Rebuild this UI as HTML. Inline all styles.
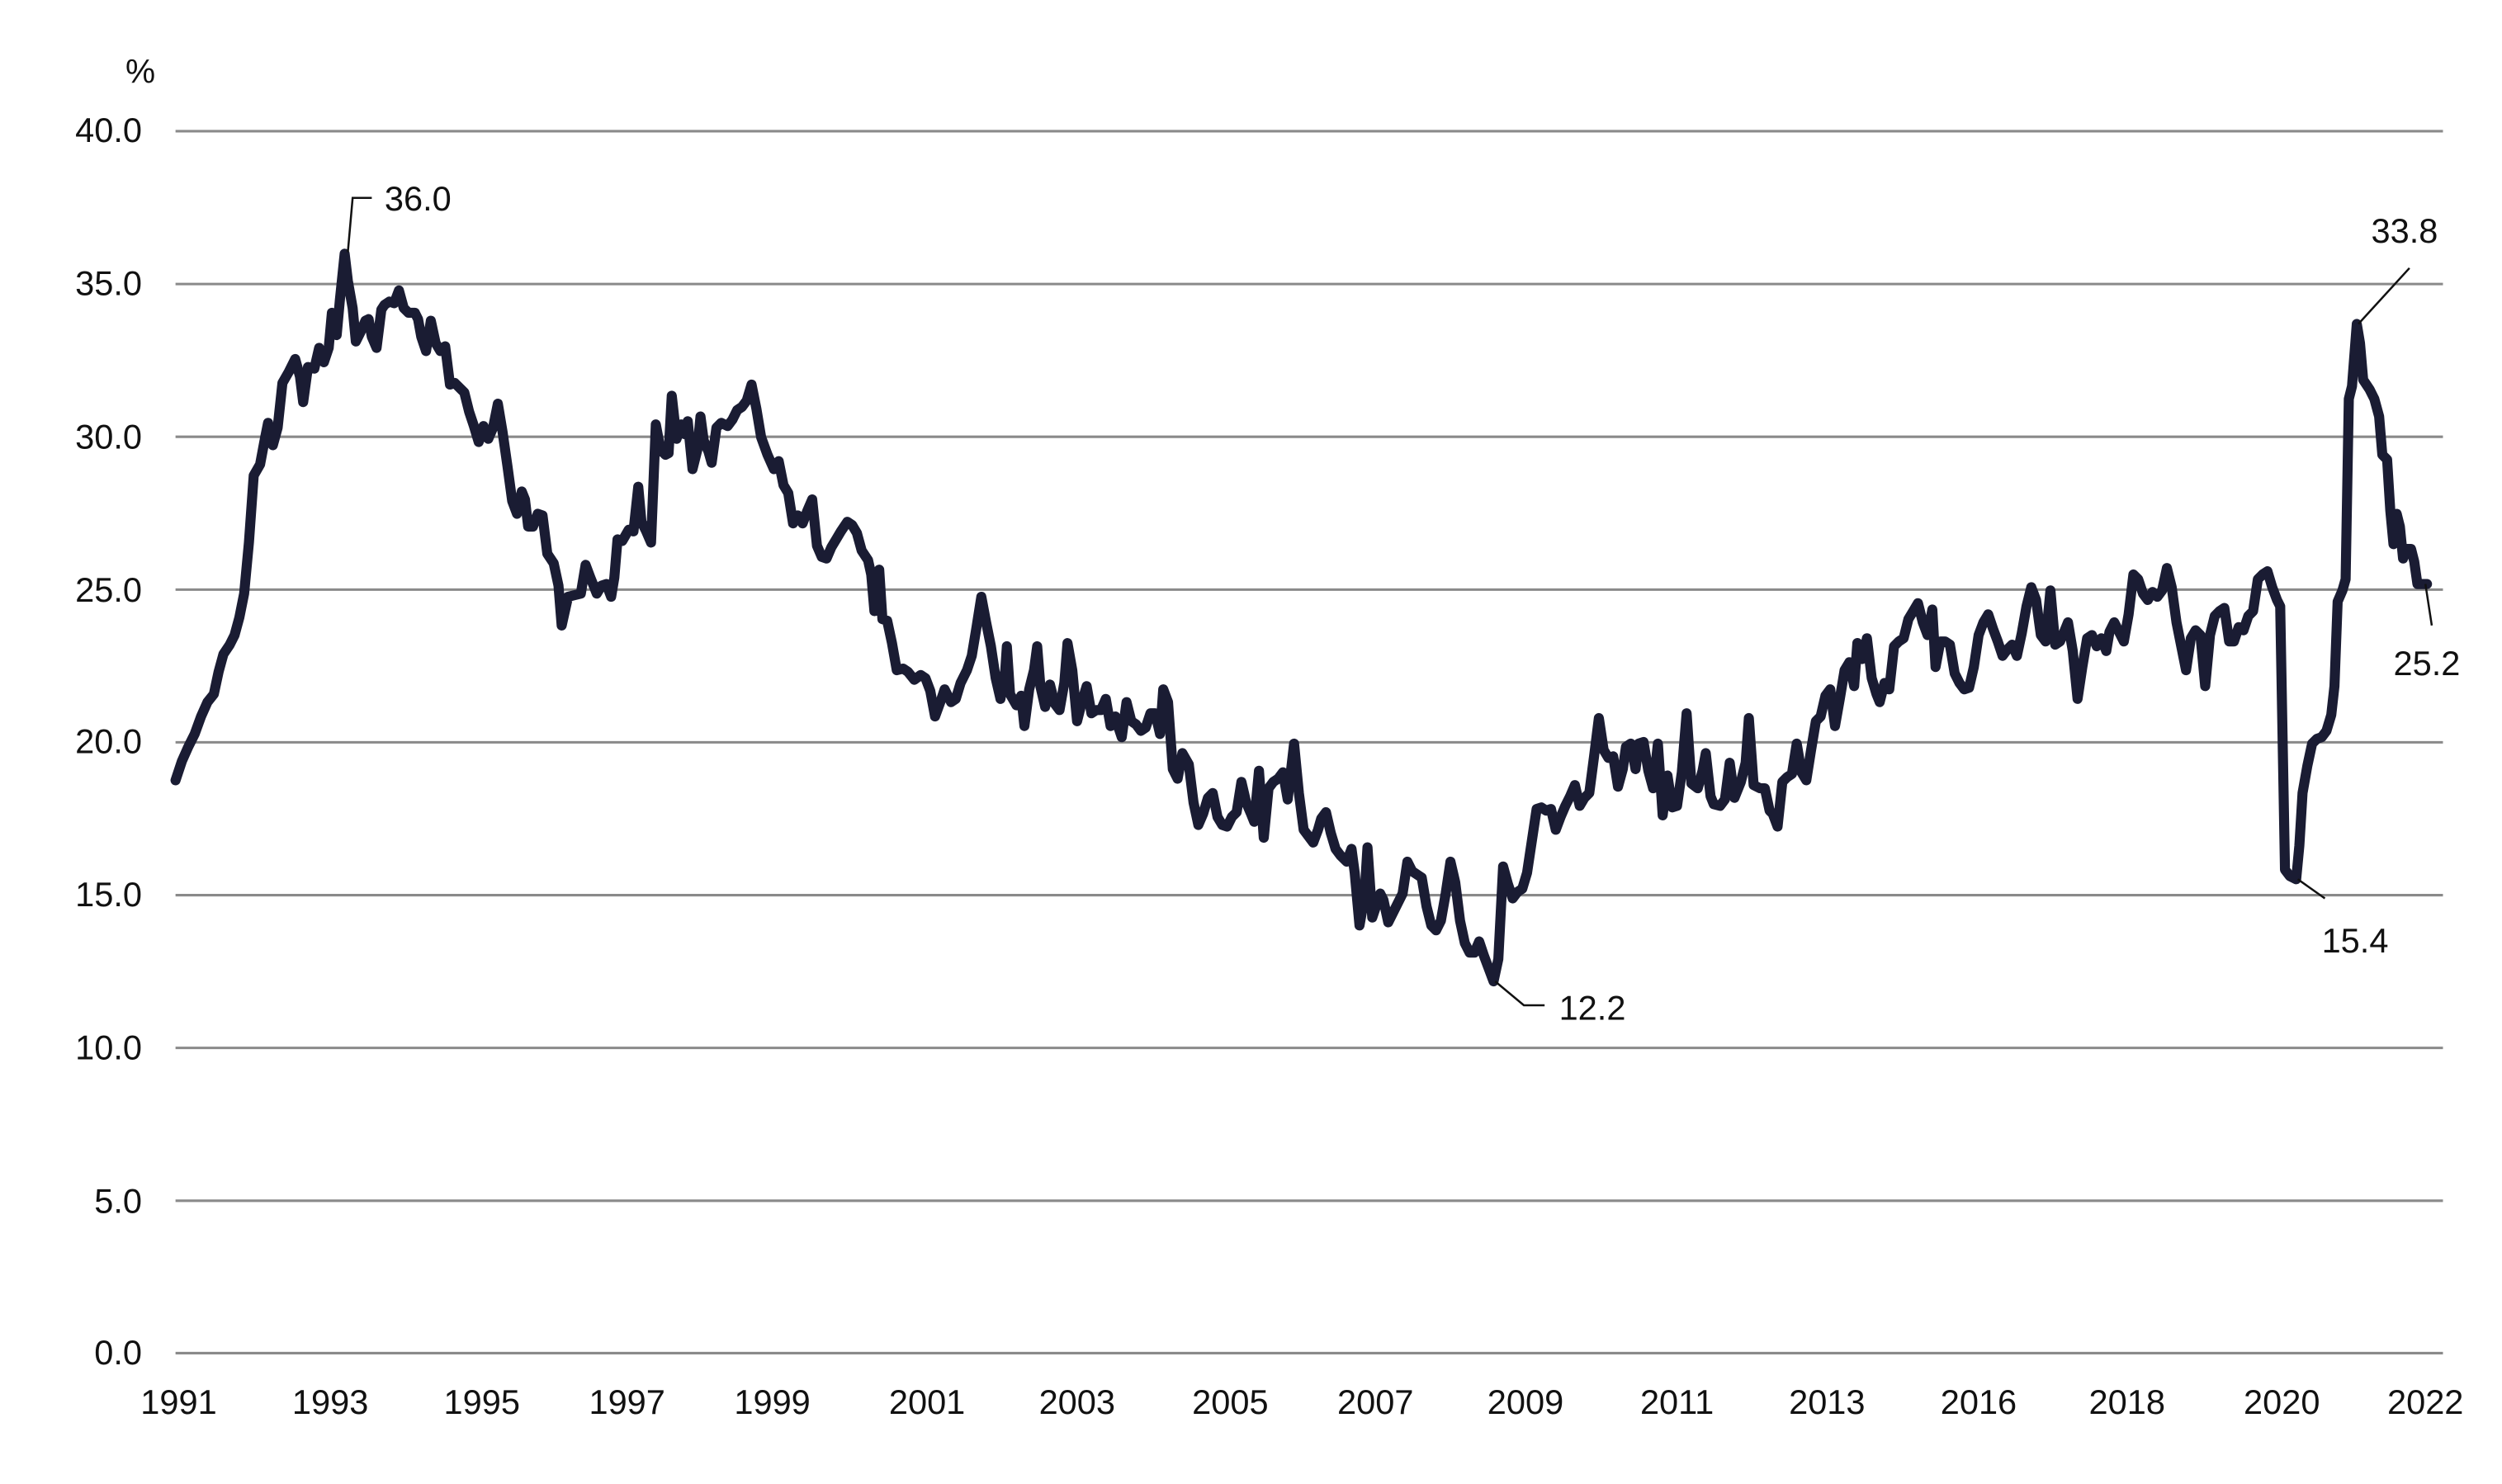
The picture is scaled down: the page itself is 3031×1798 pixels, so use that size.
<!DOCTYPE html>
<html><head><meta charset="utf-8"><style>
html,body{margin:0;padding:0;background:#fff;}
svg{display:block;}
text{font-family:"Liberation Sans",sans-serif;fill:#111;}
</style></head><body>
<svg width="3031" height="1798" viewBox="0 0 1568 930" preserveAspectRatio="none">
<g stroke="#8a8a8a" stroke-width="1.6">
<line x1="110" y1="82.2" x2="1531" y2="82.2"/>
<line x1="110" y1="178" x2="1531" y2="178"/>
<line x1="110" y1="273.7" x2="1531" y2="273.7"/>
<line x1="110" y1="369.5" x2="1531" y2="369.5"/>
<line x1="110" y1="465.2" x2="1531" y2="465.2"/>
<line x1="110" y1="561" x2="1531" y2="561"/>
<line x1="110" y1="656.7" x2="1531" y2="656.7"/>
<line x1="110" y1="752.5" x2="1531" y2="752.5"/>
<line x1="110" y1="848" x2="1531" y2="848"/>
</g>
<g font-size="21.5" text-anchor="end">
<text x="89" y="89">40.0</text>
<text x="89" y="185">35.0</text>
<text x="89" y="281">30.0</text>
<text x="89" y="377">25.0</text>
<text x="89" y="472">20.0</text>
<text x="89" y="568">15.0</text>
<text x="89" y="664">10.0</text>
<text x="89" y="760">5.0</text>
<text x="89" y="855">0.0</text>
</g>
<text x="88" y="52" font-size="21" text-anchor="middle">%</text>
<g font-size="21.5" text-anchor="middle">
<text x="112" y="886">1991</text><text x="207" y="886">1993</text><text x="302" y="886">1995</text>
<text x="393" y="886">1997</text><text x="484" y="886">1999</text><text x="581" y="886">2001</text>
<text x="675" y="886">2003</text><text x="771" y="886">2005</text><text x="862" y="886">2007</text>
<text x="956" y="886">2009</text><text x="1051" y="886">2011</text><text x="1145" y="886">2013</text>
<text x="1240" y="886">2016</text><text x="1333" y="886">2018</text><text x="1430" y="886">2020</text>
<text x="1520" y="886">2022</text>
</g>
<polyline fill="none" stroke="#1a1c33" stroke-width="6.3" stroke-linejoin="round" stroke-linecap="round" points="110,489 114,477 118,468 122,460 126,449 130,440 134,435 137,421 140,410 144,404 147,398 150,387 153,372 156,340 159,298 163,291 166,275 168,265 171,279 174,268 177,240 181,233 185,225 188,236 190,252 193,230 197,231 200,218 203,227 206,218 208,196 211,210 213,188 216,159 218,176 221,193 223,214 226,208 229,201 231,200 233,211 236,218 239,194 241,191 244,189 247,190 250,182 253,193 256,196 260,196 262,200 264,211 267,220 270,201 273,215 276,220 279,217 282,241 285,240 288,243 291,246 294,258 297,267 300,277 303,267 306,275 309,268 312,253 315,271 318,292 321,314 324,322 327,308 329,313 331,330 334,330 337,322 340,323 343,347 347,353 350,367 352,392 356,374 360,373 364,372 367,354 370,362 374,372 377,367 380,366 383,374 385,362 387,338 390,339 394,332 397,333 400,305 402,327 405,333 408,340 411,266 414,282 417,285 419,284 421,248 424,275 427,266 429,272 431,264 434,294 437,282 439,261 441,276 444,283 446,290 449,268 452,265 456,267 459,263 462,257 465,255 468,251 471,241 474,256 477,274 481,285 485,294 488,289 491,304 494,309 497,328 500,323 503,328 506,320 509,313 512,342 515,349 518,350 521,343 524,338 527,333 531,327 534,329 537,334 540,345 544,351 546,360 548,383 551,357 553,388 556,389 559,403 562,420 566,419 569,421 573,426 577,423 580,425 583,433 586,449 590,438 592,432 596,440 599,438 602,428 606,420 609,411 612,393 615,374 618,390 621,405 624,425 627,438 630,420 631,405 633,435 637,442 640,436 642,455 645,432 648,420 650,405 652,430 655,443 658,429 661,441 664,445 667,428 669,403 672,420 675,452 678,440 681,430 684,447 687,445 690,445 693,438 696,455 699,449 701,456 703,462 706,440 709,452 712,454 715,458 718,456 721,447 724,447 727,460 729,432 732,440 735,482 738,488 741,472 745,479 748,503 751,517 754,510 757,500 760,497 763,512 766,517 769,518 772,512 775,509 778,490 781,503 784,510 786,515 789,483 792,525 795,494 798,490 801,488 804,484 807,501 811,466 814,497 817,520 820,524 823,528 826,520 828,513 831,509 834,522 837,532 840,536 844,540 847,532 849,547 852,580 855,563 857,531 860,575 863,566 865,560 867,564 870,578 873,572 876,566 879,560 882,540 885,546 888,548 891,550 894,568 897,580 900,583 903,577 906,560 909,540 912,553 915,577 918,591 921,597 924,597 927,590 930,599 933,607 936,615 939,601 942,543 945,554 948,563 951,559 954,557 957,547 960,527 963,507 966,506 969,508 972,507 975,520 978,512 981,505 984,499 987,492 990,505 993,500 996,497 999,474 1002,450 1005,470 1008,475 1011,474 1014,493 1017,482 1019,468 1022,466 1025,482 1027,466 1030,465 1033,483 1036,494 1039,466 1042,511 1045,486 1048,506 1051,505 1054,484 1057,447 1060,491 1064,494 1067,483 1069,472 1072,499 1074,504 1078,505 1081,501 1084,478 1087,500 1091,490 1094,478 1096,450 1099,492 1103,494 1106,494 1109,508 1111,510 1114,518 1117,490 1120,487 1123,485 1126,466 1129,484 1132,489 1135,470 1138,452 1141,449 1144,436 1147,432 1150,455 1153,438 1156,420 1159,415 1162,430 1164,403 1167,413 1170,400 1173,425 1176,435 1178,440 1181,428 1184,432 1187,405 1190,402 1193,400 1196,388 1199,383 1202,378 1205,390 1208,398 1211,382 1213,418 1216,402 1219,402 1222,404 1225,422 1228,428 1231,432 1234,431 1237,418 1240,398 1243,390 1246,385 1249,394 1252,402 1255,411 1258,407 1261,404 1264,411 1267,397 1270,380 1273,368 1276,376 1279,398 1282,402 1285,370 1288,404 1291,402 1294,395 1296,390 1299,408 1302,438 1305,418 1308,400 1311,398 1314,405 1317,400 1320,408 1322,396 1325,390 1328,396 1331,402 1334,385 1337,360 1340,363 1343,372 1346,376 1349,371 1352,374 1355,370 1358,356 1361,368 1364,390 1367,405 1370,420 1373,400 1376,395 1379,398 1382,430 1385,398 1388,386 1391,383 1394,381 1397,402 1400,402 1403,393 1406,395 1409,386 1412,383 1415,363 1418,360 1421,358 1424,368 1427,376 1429,380 1432,545 1435,549 1439,551 1441,530 1443,497 1446,480 1449,466 1452,463 1455,462 1458,458 1461,448 1463,430 1465,377 1468,370 1470,363 1472,250 1474,242 1477,203 1479,215 1481,238 1485,244 1488,250 1491,261 1493,285 1496,288 1498,320 1500,341 1502,322 1504,330 1506,350 1508,344 1511,344 1513,352 1515,366 1518,366 1521,366"/>
<g stroke="#111" stroke-width="1.3" fill="none">
<polyline points="218,158 221,124 233,124"/>
<polyline points="1478,203 1510,168"/>
<polyline points="1440,551 1457,563"/>
<polyline points="1520,366 1524,392"/>
<polyline points="937,615 955,630 968,630"/>
</g>
<g font-size="21.5">
<text x="241" y="132">36.0</text>
<text x="1486" y="152">33.8</text>
<text x="1455" y="597">15.4</text>
<text x="1500" y="423">25.2</text>
<text x="977" y="639">12.2</text>
</g>
</svg>
</body></html>
